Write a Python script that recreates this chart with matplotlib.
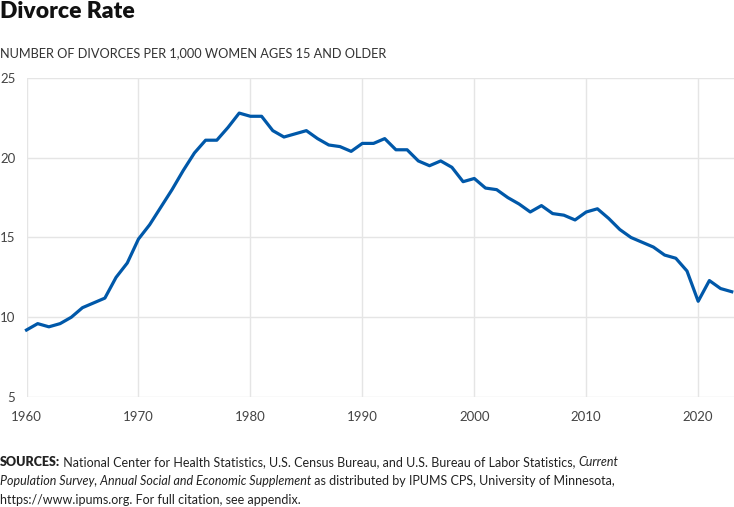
import matplotlib
matplotlib.use("Agg")
import matplotlib.pyplot as plt
from matplotlib import font_manager

years = list(range(1960, 2024))
divorce_rate = [
    9.2, 9.6, 9.4, 9.6, 10.0, 10.6, 10.9, 11.2, 12.5, 13.4,
    14.9, 15.8, 16.9, 18.0, 19.2, 20.3, 21.1, 21.1, 21.9, 22.8,
    22.6, 22.6, 21.7, 21.3, 21.5, 21.7, 21.2, 20.8, 20.7, 20.4,
    20.9, 20.9, 21.2, 20.5, 20.5, 19.8, 19.5, 19.8, 19.4, 18.5,
    18.7, 18.1, 18.0, 17.5, 17.1, 16.6, 17.0, 16.5, 16.4, 16.1,
    16.6, 16.8, 16.2, 15.5, 15.0, 14.7, 14.4, 13.9, 13.7, 12.9,
    11.0, 12.3, 11.8, 11.6,
]
x_ticks = [1960, 1970, 1980, 1990, 2000, 2010, 2020]
y_ticks = [5, 10, 15, 20, 25]

title = "Divorce Rate"
subtitle = "NUMBER OF DIVORCES PER 1,000 WOMEN AGES 15 AND OLDER"

names = {f.name for f in font_manager.fontManager.ttflist}
main_font = "Lato" if "Lato" in names else "DejaVu Sans"

W, H = 734, 507
fig = plt.figure(figsize=(W / 100, H / 100), dpi=100)
ax = fig.add_axes([26.5 / W, (H - 397) / H, 1 - 26.5 / W, 319 / H])

ax.plot(years, divorce_rate, color="#0058a9", linewidth=2.3, clip_on=False, zorder=3)
ax.set_xlim(1960, 2023.2)
ax.set_ylim(5, 25)
ax.set_xticks(x_ticks)
ax.set_yticks(y_ticks)
ax.grid(True, color="#e5e5e5", linewidth=1)
ax.set_axisbelow(True)
for s in ax.spines.values():
    s.set_visible(False)
ax.tick_params(length=0, labelsize=9.5, labelcolor="#444444", pad=10, labelfontfamily=main_font)
ax.tick_params(axis="y", pad=8)

fig.text(0, 1 - 12 / H, title, fontsize=16.5, fontweight="heavy", family=main_font,
         va="center", ha="left", color="#111111")
fig.text(0, 1 - 53 / H, subtitle, fontsize=9.2, family=main_font,
         va="center", ha="left", color="#333333")

# footnote with mixed bold/italic runs
lines = [
    [("SOURCES:", "heavy", "normal"),
     (" National Center for Health Statistics, U.S. Census Bureau, and U.S. Bureau of Labor Statistics, ", "normal", "normal"),
     ("Current", "normal", "italic")],
    [("Population Survey, Annual Social and Economic Supplement", "normal", "italic"),
     (" as distributed by IPUMS CPS, University of Minnesota,", "normal", "normal")],
    [("https://www.ipums.org. For full citation, see appendix.", "normal", "normal")],
]
fig.canvas.draw()
renderer = fig.canvas.get_renderer()


def draw_line(runs, y, size):
    x = 0
    arts = []
    for txt, weight, style in runs:
        t = fig.text(x / W, 1 - y / H, txt, fontsize=size, family=main_font,
                     fontweight=weight, fontstyle=style, va="center", ha="left", color="#222222")
        x += t.get_window_extent(renderer).width
        arts.append(t)
    return x, arts


# fit the first line to the width it takes in the source
w, arts = draw_line(lines[0], 462, 10)
for a in arts:
    a.remove()
note_size = 10 * 617 / w

for i, runs in enumerate(lines):
    draw_line(runs, 462 + i * 19.2, note_size)

fig.savefig("out.png", dpi=100)
